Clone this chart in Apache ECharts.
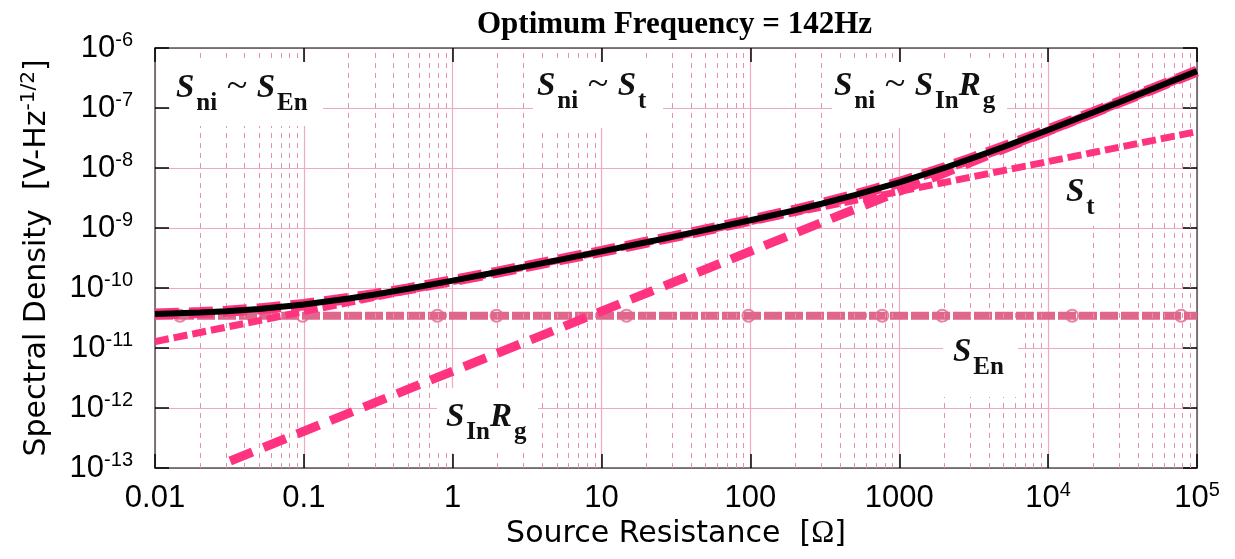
<!DOCTYPE html>
<html><head><meta charset="utf-8">
<script src="https://cdn.jsdelivr.net/npm/echarts@6/dist/echarts.min.js"></script>
<style>html,body{margin:0;padding:0;background:#fff}#c{width:1235px;height:559px}</style>
</head><body><div id="c"></div>
<script>
// ---- data ----
const resistance = [0.01,0.02,0.03,0.05,0.1,0.2,0.3,0.5,1,2,3,5,10,20,30,50,100,200,300,500,1000,2000,3000,5000,1e4,2e4,3e4,5e4,1e5];
const totalNoise = [3.68e-11,3.90e-11,4.10e-11,4.48e-11,5.32e-11,6.68e-11,7.81e-11,9.69e-11,1.326e-10,1.845e-10,2.247e-10,2.89e-10,4.08e-10,5.79e-10,7.13e-10,9.29e-10,1.344e-9,1.987e-9,2.535e-9,3.52e-9,5.76e-9,1.0e-8,1.416e-8,2.24e-8,4.30e-8,8.40e-8,1.25e-7,2.07e-7,4.12e-7];
const thermalNoise = [1.28e-11,1.81e-11,2.22e-11,2.86e-11,4.05e-11,5.72e-11,7.01e-11,9.05e-11,1.28e-10,1.81e-10,2.22e-10,2.86e-10,4.05e-10,5.72e-10,7.01e-10,9.05e-10,1.28e-9,1.81e-9,2.22e-9,2.86e-9,4.05e-9,5.72e-9,7.01e-9,9.05e-9,1.28e-8,1.81e-8,2.22e-8,2.86e-8,4.05e-8];
const enR = [0.01, 1e5];
const enNoise = [3.45e-11, 3.45e-11];
const enMarkerR = [0.0147, 0.098, 0.79, 1.97, 14.7, 97, 769, 1946, 14500, 78200];
const enMarkerNoise = [3.45e-11,3.45e-11,3.45e-11,3.45e-11,3.45e-11,3.45e-11,3.45e-11,3.45e-11,3.45e-11,3.45e-11];
const inR = [0.032, 0.1, 1, 10, 100, 1000, 1e4, 1e5];
const inNoise = [1.31e-13, 4.1e-13, 4.1e-12, 4.1e-11, 4.1e-10, 4.1e-9, 4.1e-8, 4.1e-7];
const xTickLabels = ['0.01','0.1','1','10','100','1000','10^4','10^5'];
const yTickExponents = ['-13','-12','-11','-10','-9','-8','-7','-6'];
const minorMultipliers = [2,3,4,5,6,7,8,9];
const decades = [0.01,0.1,1,10,100,1000,1e4];

const pair = (xs, ys) => xs.map((x, i) => [x, ys[i]]);
const minorLines = [];
decades.forEach(d => minorMultipliers.forEach(m => minorLines.push({xAxis: d * m})));

const PINK = '#ff3380', EN = '#e0678c', GRID = '#efaabf', MINOR = '#ea8fab';

const tickRich = {
  b: {fontFamily: 'Liberation Sans', fontSize: 31, lineHeight: 36, color: '#000'},
  s: {fontFamily: 'Liberation Sans', fontSize: 20, lineHeight: 20, verticalAlign: 'top', color: '#000'}
};

function xLabel(v) {
  const i = Math.round(Math.log10(v)) + 2;
  const s = xTickLabels[i];
  if (s === undefined) return '';
  if (s.indexOf('^') >= 0) { const p = s.split('^'); return '{b|' + p[0] + '}{s|' + p[1] + '}'; }
  return '{b|' + s + '}';
}
function yLabel(v) {
  const i = Math.round(Math.log10(v)) + 13;
  const e = yTickExponents[i];
  if (e === undefined) return '';
  return '{b|10}{s|' + e + '}';
}

const axisLineStyle = {color: '#555', width: 1.5};
const tickStyle = {show: true, inside: true, length: 14, lineStyle: {color: '#000', width: 1.5}};

// annotation text (S with subscripts), built from measured pieces
const FONTS = {
  S: {style: 'italic', weight: 'bold', size: 33, dy: 0, gap: 2},
  sub: {style: 'normal', weight: 'bold', size: 25, dy: 16, gap: 0},
  t: {style: 'normal', weight: 'normal', size: 38, dy: -1, gap: 0}
};
const mctx = document.createElement('canvas').getContext('2d');
function label(x, y, parts) {
  let cx = x;
  parts.forEach(p => {
    const f = FONTS[p[1]];
    mctx.font = f.style + ' ' + f.weight + ' ' + f.size + 'px "Liberation Serif"';
    graphics.push({type: 'text', z: 52, x: cx, y: y + f.dy, style: {
      text: p[0], fontFamily: 'Liberation Serif', fontStyle: f.style, fontWeight: f.weight, fontSize: f.size,
      fill: '#111', verticalAlign: 'middle', align: 'left'}});
    cx += mctx.measureText(p[0]).width + f.gap;
  });
}

const boxes = [
  [170, 62, 153, 64], [533, 62, 130, 66], [832, 62, 175, 66],
  [1050, 171, 58, 55], [943, 322, 75, 75], [437, 388, 101, 65]
];
const graphics = [];
boxes.forEach(b => graphics.push({type: 'rect', z: 50, shape: {x: b[0], y: b[1], width: b[2], height: b[3]}, style: {fill: '#fff'}}));
label(176, 88, [['S','S'],['ni','sub'],[' ~ ','t'],['S','S'],['En','sub']]);
label(537, 86, [['S','S'],['ni','sub'],[' ~ ','t'],['S','S'],['t','sub']]);
label(834, 86, [['S','S'],['ni','sub'],[' ~ ','t'],['S','S'],['In','sub'],['R','S'],['g','sub']]);
label(1066, 192, [['S','S'],['t','sub']]);
label(953, 352, [['S','S'],['En','sub']]);
label(446, 417, [['S','S'],['In','sub'],['R','S'],['g','sub']]);

const chart = echarts.init(document.getElementById('c'), null, {renderer: 'canvas'});
chart.setOption({
  animation: false,
  backgroundColor: '#fff',
  title: {
    text: 'Optimum Frequency = 142Hz', left: 472, top: 4,
    textStyle: {fontFamily: 'Liberation Serif', fontWeight: 'bold', fontSize: 31, color: '#000'}
  },
  grid: {left: 155, right: 38, top: 48, bottom: 91, containLabel: false},
  xAxis: [{
    type: 'log', logBase: 10, min: 0.01, max: 1e5, splitNumber: 7,
    axisLine: {show: true, lineStyle: axisLineStyle},
    axisTick: tickStyle,
    splitLine: {show: true, lineStyle: {color: GRID, width: 1.2}},
    axisLabel: {formatter: xLabel, rich: tickRich, margin: 12},
    name: '{n|Source Resistance  [}{o|Ω}{n|]}', nameLocation: 'middle', nameGap: 48,
    nameTextStyle: {rich: {
      n: {fontFamily: 'DejaVu Sans', fontSize: 30, lineHeight: 34, color: '#000'},
      o: {fontFamily: 'Liberation Serif', fontSize: 31, lineHeight: 34, color: '#000'}
    }}
  }, {
    type: 'log', logBase: 10, min: 0.01, max: 1e5, splitNumber: 7, position: 'top',
    axisLine: {show: true, lineStyle: axisLineStyle}, axisTick: tickStyle,
    splitLine: {show: false}, axisLabel: {show: false}
  }],
  yAxis: [{
    type: 'log', logBase: 10, min: 1e-13, max: 1e-6, splitNumber: 7,
    axisLine: {show: true, lineStyle: axisLineStyle},
    axisTick: tickStyle,
    splitLine: {show: true, lineStyle: {color: GRID, width: 1.2}},
    axisLabel: {formatter: yLabel, rich: tickRich, margin: 22},
    name: '{n|Spectral Density  [V-Hz}{s|-1/2}{n|]}', nameLocation: 'middle', nameGap: 100, nameRotate: 90,
    nameTextStyle: {rich: {
      n: {fontFamily: 'DejaVu Sans', fontSize: 30, lineHeight: 36, color: '#000'},
      s: {fontFamily: 'DejaVu Sans', fontSize: 20, lineHeight: 20, verticalAlign: 'top', color: '#000'}
    }}
  }, {
    type: 'log', logBase: 10, min: 1e-13, max: 1e-6, splitNumber: 7, position: 'right',
    axisLine: {show: true, lineStyle: axisLineStyle}, axisTick: tickStyle,
    splitLine: {show: false}, axisLabel: {show: false}
  }],
  graphic: graphics,
  series: [
    {type: 'line', z: 1, silent: true, data: [[0.01, 1e-13]], showSymbol: false, lineStyle: {opacity: 0},
     markLine: {silent: true, symbol: ['none', 'none'], label: {show: false}, animation: false,
       lineStyle: {color: MINOR, type: [5, 5], width: 1}, data: minorLines}},
    {type: 'scatter', z: 3, data: pair(enMarkerR, enMarkerNoise), symbol: 'emptyCircle', symbolSize: 12,
     itemStyle: {color: EN, borderColor: EN, borderWidth: 2}, silent: true},
    {type: 'line', z: 4, data: pair(enR, enNoise), showSymbol: false, lineStyle: {color: EN, width: 8, type: [18, 3]}},
    {type: 'line', z: 5, data: pair(resistance, thermalNoise), showSymbol: false, lineStyle: {color: PINK, width: 7, type: [14, 5]}},
    {type: 'line', z: 6, data: pair(inR, inNoise), showSymbol: false, lineStyle: {color: PINK, width: 9, type: [24, 12]}},
    {type: 'line', z: 7, data: pair(resistance, totalNoise), showSymbol: false, lineStyle: {color: PINK, width: 11, type: [24, 10]}},
    {type: 'line', z: 8, data: pair(resistance, totalNoise), showSymbol: false, lineStyle: {color: '#000', width: 6}}
  ]
});
</script>
</body></html>
